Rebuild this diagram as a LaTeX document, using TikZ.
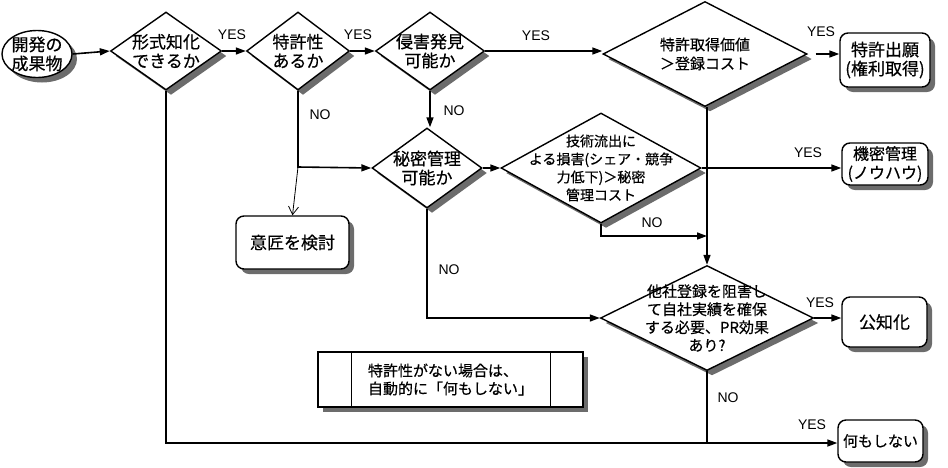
\documentclass[tikz,border=0pt]{standalone}
\usepackage{fontspec}
\setmainfont{Liberation Sans}
\newfontfamily\jp[FakeBold=0.5]{Noto Sans CJK JP}
\usetikzlibrary{shapes.geometric,arrows.meta,shadows}
\begin{document}
\begin{tikzpicture}[x=1pt,y=-1pt,
  shd/.style={drop shadow={shadow xshift=5pt,shadow yshift=-5pt,fill=gray!85!black,opacity=1}},
  dia/.style={diamond,draw,line width=1.4pt,fill=white,inner sep=0pt,shd},
  rbox/.style={rectangle,rounded corners=8pt,draw,line width=1.4pt,fill=white,shd,inner sep=0pt},
  jt/.style={font=\jp\fontsize{#1}{19}\selectfont,align=center,inner sep=0pt},
  jts/.style={font=\jp\fontsize{#1}{18}\selectfont,align=center,inner sep=0pt},
  lab/.style={font=\fontsize{14}{16}\selectfont,inner sep=0pt},
  con/.style={line width=1.6pt},
  arr/.style={con,-{Triangle[length=10pt,width=7pt]}},
  thinarr/.style={line width=0.8pt,-{Straight Barb[length=8pt,width=10pt]}}
]
\useasboundingbox (0,0) rectangle (948,467);
\fill[white] (0,0) rectangle (948,467);

% nodes
\node[ellipse,draw,line width=1.4pt,fill=white,shd,minimum width=70pt,minimum height=47pt,inner sep=0pt,
  label={[jt=17]center:開発の\\成果物}] (e0) at (37,54) {};
\node[dia,minimum width=111pt,minimum height=78pt,
  label={[jt=17]center:形式知化\\できるか}] (d1) at (166,51) {};
\node[dia,minimum width=103pt,minimum height=78pt,
  label={[jt=17]center:特許性\\あるか}] (d2) at (298,51) {};
\node[dia,minimum width=109pt,minimum height=78pt,
  label={[jt=17]center:侵害発見\\可能か}] (d3) at (430,51) {};
\node[dia,minimum width=204pt,minimum height=105pt,
  label={[jt=15]center:特許取得価値\\＞登録コスト}] (d4) at (705,54) {};
\node[rbox,minimum width=90pt,minimum height=54pt,
  label={[jt=17]center:特許出願\\(権利取得)}] (b1) at (885,60) {};
\node[dia,minimum width=110pt,minimum height=80pt,
  label={[jt=17]center:秘密管理\\可能か}] (d5) at (427,168) {};
\node[dia,minimum width=200pt,minimum height=110pt,
  label={[jts=14]center:技術流出に\\よる損害(シェア・競争\\力低下)＞秘密\\管理コスト}] (d6) at (601,168) {};
\node[rbox,minimum width=86pt,minimum height=42pt,
  label={[jt=16]center:機密管理\\(ノウハウ)}] (b2) at (885,164) {};
\node[rbox,minimum width=113pt,minimum height=53pt,
  label={[jt=17]center:意匠を検討}] (b3) at (292.5,242.5) {};
\node[dia,minimum width=213pt,minimum height=105pt,
  label={[jts=15]center:他社登録を阻害し\\て自社実績を確保\\する必要、PR効果\\あり?}] (d7) at (707,318) {};
\node[rbox,minimum width=85pt,minimum height=50pt,
  label={[jt=17]center:公知化}] (b4) at (884.5,322) {};
\node[rbox,minimum width=85pt,minimum height=42pt,
  label={[jt=15]center:何もしない}] (b5) at (880.5,441) {};
\node[rectangle,draw,line width=1.4pt,fill=white,shd,minimum width=265pt,minimum height=55pt,inner sep=0pt,
  label={[jts=15,align=left]center:特許性がない場合は、\\自動的に「何もしない」}] (nt) at (450.5,379.5) {};
\draw[line width=1.4pt] ([xshift=34pt]nt.north west) -- ([xshift=34pt]nt.south west);
\draw[line width=1.4pt] ([xshift=-33pt]nt.north east) -- ([xshift=-33pt]nt.south east);

% coordinates
\coordinate (c1) at (298,167);
\coordinate (c2) at (601,236);
\coordinate (c3) at (166,443);
\coordinate (c4) at (707,443);
\coordinate (c5) at (427,318);
\coordinate (c6) at (707,236);

% connectors
\draw[arr] (e0.east) -- (d1.west);
\draw[arr] (d1.east) -- (d2.west);
\draw[arr] (d2.east) -- (d3.west);
\draw[arr] (d3.east) -- (d3.east -| d4.west);
\draw[arr] ([xshift=8pt]d4.east) -- (d4.east -| b1.west);
\draw[arr] (d3.south) -- (d3.south |- d5.north);
\draw[arr] (d2.south) -- (c1) -- (d5.west);
\draw[thinarr] (c1) -- (b3.north);
\draw[arr] (d5.east) -- (d6.west);
\draw[arr] (d6.east) -- (d6.east -| b2.west);
\draw[arr] (d4.south -| d7.north) -- (d7.north);
\draw[arr] (d6.south) -- (c2) -- (c6);
\draw[arr] (d5.south) -- (c5) -- (d7.west);
\draw[arr] (d7.east) -- (d7.east -| b4.west);
\draw[con] (d7.south) -- (c4);
\draw[arr] (d1.south) -- (c3) -- (c3 -| b5.west);

% labels
\node[lab] (y1) at (232,35) {YES};
\node[lab] (y2) at (358,35) {YES};
\node[lab] (y3) at (536,36) {YES};
\node[lab] (y4) at (821,32) {YES};
\node[lab] (y5) at (808,153) {YES};
\node[lab] (y6) at (820,303) {YES};
\node[lab] (y7) at (812,425) {YES};
\node[lab] (n1) at (320,115) {NO};
\node[lab] (n2) at (454,111) {NO};
\node[lab] (n3) at (652,223) {NO};
\node[lab] (n4) at (449,270) {NO};
\node[lab] (n5) at (728,398) {NO};
\end{tikzpicture}
\end{document}
